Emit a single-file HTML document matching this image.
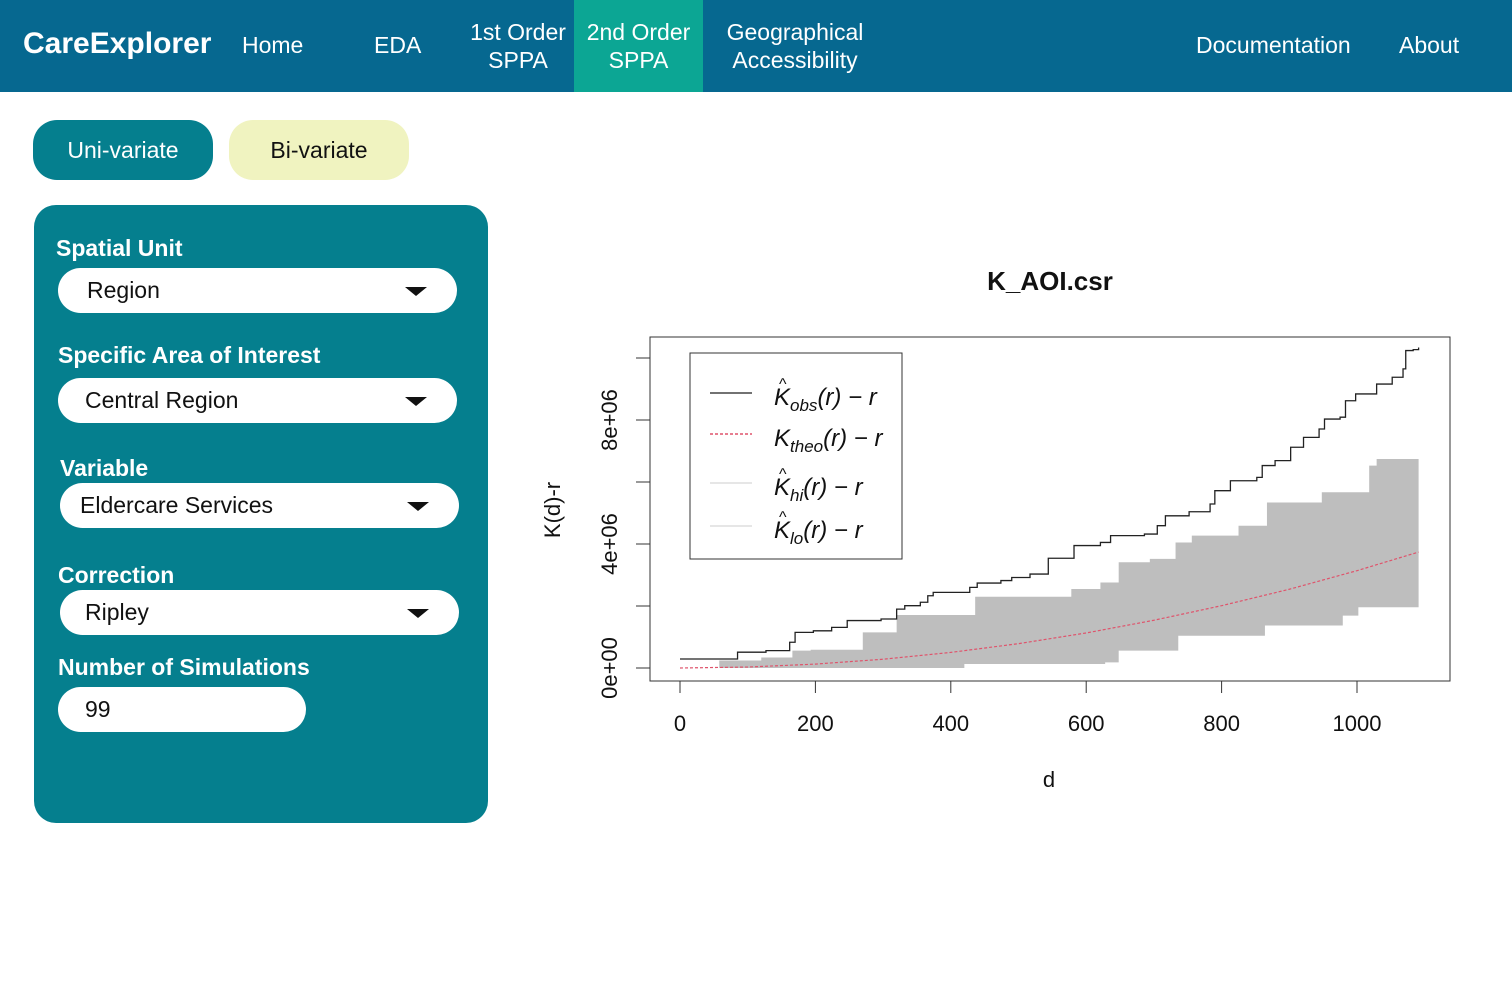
<!DOCTYPE html>
<html><head><meta charset="utf-8">
<style>
*{box-sizing:border-box;margin:0;padding:0}
body{width:1512px;height:983px;background:#fff;font-family:"Liberation Sans",sans-serif;position:relative;overflow:hidden}
.nav{position:absolute;left:0;top:0;width:1512px;height:92px;background:#066890;color:#fff}
.nav div{position:absolute;font-size:23px;text-align:center;line-height:28px}
.brand{left:23px;top:30px;font-weight:bold;font-size:30px!important}
.active{background:#0ca694;top:0!important;height:92px;padding-top:18px}
.btn{position:absolute;top:120px;width:180px;height:60px;border-radius:24px;font-size:23px;text-align:center;line-height:60px}
.panel{position:absolute;left:34px;top:205px;width:454px;height:618px;background:#057f8e;border-radius:22px}
.lbl{position:absolute;color:#fff;font-weight:bold;font-size:23px}
.sel{position:absolute;background:#fff;border-radius:23px;height:45px;font-size:23px;line-height:45px;color:#111}
.sel .arr{position:absolute;right:30px;top:19px;width:0;height:0;border-left:11px solid transparent;border-right:11px solid transparent;border-top:9px solid #111}
svg{position:absolute;left:0;top:0}
</style></head><body>
<div class="nav">
<div class="brand">CareExplorer</div>
<div style="left:242px;top:31px">Home</div>
<div style="left:374px;top:31px">EDA</div>
<div style="left:466px;top:18px;width:104px">1st Order<br>SPPA</div>
<div class="active" style="left:574px;width:129px">2nd Order<br>SPPA</div>
<div style="left:722px;top:18px;width:146px">Geographical<br>Accessibility</div>
<div style="left:1196px;top:31px">Documentation</div>
<div style="left:1399px;top:31px">About</div>
</div>
<div class="btn" style="left:33px;background:#057f8e;color:#fff">Uni-variate</div>
<div class="btn" style="left:229px;background:#f0f3c0;color:#111">Bi-variate</div>
<div class="panel"></div>
<div class="lbl" style="left:56px;top:235px">Spatial Unit</div>
<div class="sel" style="left:58px;top:268px;width:399px;padding-left:29px">Region<span class="arr"></span></div>
<div class="lbl" style="left:58px;top:342px">Specific Area of Interest</div>
<div class="sel" style="left:58px;top:378px;width:399px;padding-left:27px">Central Region<span class="arr"></span></div>
<div class="lbl" style="left:60px;top:455px">Variable</div>
<div class="sel" style="left:60px;top:483px;width:399px;padding-left:20px">Eldercare Services<span class="arr"></span></div>
<div class="lbl" style="left:58px;top:562px">Correction</div>
<div class="sel" style="left:60px;top:590px;width:399px;padding-left:25px">Ripley<span class="arr"></span></div>
<div class="lbl" style="left:58px;top:654px">Number of Simulations</div>
<div class="sel" style="left:58px;top:687px;width:248px;padding-left:27px">99</div>

<svg id="chart" width="1512" height="983"></svg>
<script>
const obsD=[0,85,127,162,170,197,224,247,297,320,332,355,366,374,428,439,474,490,517,544,582,621,636,686,705,717,752,783,790,813,852,860,879,902,921,944,952,975,983,998,1029,1052,1068,1072,1083,1091];
const obsV=[0.29,0.51,0.56,0.83,1.15,1.20,1.31,1.53,1.58,1.90,2.01,2.12,2.33,2.44,2.60,2.74,2.82,2.92,3.03,3.54,3.95,4.05,4.27,4.32,4.59,4.91,5.04,5.29,5.72,6.04,6.15,6.53,6.69,7.12,7.44,7.71,8.03,8.09,8.62,8.84,9.16,9.38,9.65,10.24,10.27,10.34];
const hiD=[0,58,120,166,193,270,320,436,578,621,648,694,732,756,825,867,948,1018,1029,1091];
const hiV=[0,0.24,0.34,0.56,0.59,1.15,1.71,2.30,2.55,2.76,3.41,3.52,4.05,4.27,4.59,5.34,5.67,6.53,6.74,6.85];
const loD=[0,420,628,648,736,864,979,1002,1091];
const loV=[0,0.13,0.18,0.56,1.04,1.37,1.69,1.96,1.96];
const theoD=[0,100,200,300,400,500,600,700,800,900,1000,1091];
const theoV=[0,0.031,0.126,0.283,0.503,0.785,1.13,1.54,2.01,2.54,3.14,3.74];
const xTicks=[0,200,400,600,800,1000];
const yTicks=[0,2,4,6,8,10];
const yLabels={0:"0e+00",4:"4e+06",8:"8e+06"};
const sx=d=>680+d*0.677, sy=v=>668-v*31;
const NS="http://www.w3.org/2000/svg", svg=document.getElementById('chart');
function mk(t,a,txt){const e=document.createElementNS(NS,t);for(const k in a)e.setAttribute(k,a[k]);if(txt!=null)e.textContent=txt;svg.appendChild(e);return e;}
function step(D,V){let p=`M${sx(D[0])},${sy(V[0])}`;for(let i=1;i<D.length;i++)p+=` H${sx(D[i])} V${sy(V[i])}`;return p;}
// envelope
let env=step(hiD,hiV);
for(let i=loD.length-1;i>=0;i--){env+=` L${sx(loD[i])},${sy(loV[i])}`;if(i>0)env+=` L${sx(loD[i])},${sy(loV[i-1])}`;}
const ev=mk('path',{d:env+'Z',fill:'#bebebe',stroke:'none'});


const th=mk('path',{d:'M'+theoD.map((d,i)=>sx(d)+','+sy(theoV[i])).join(' L'),fill:'none',stroke:'#df536b','stroke-width':1.2,'stroke-dasharray':'3,2'});


const ob=mk('path',{d:step(obsD,obsV),fill:'none',stroke:'#222','stroke-width':1.3});


const box=mk('rect',{x:650,y:337,width:800,height:344,fill:'none',stroke:'#333','stroke-width':1});


xTicks.forEach(t=>{mk('line',{x1:sx(t),x2:sx(t),y1:681,y2:693,stroke:'#333'});
const l=mk('text',{x:sx(t),y:731,'font-size':22,'text-anchor':'middle',fill:'#111'},t);

});
yTicks.forEach(t=>{mk('line',{x1:636,x2:650,y1:sy(t),y2:sy(t),stroke:'#333'});
if(yLabels[t]){const l=mk('text',{x:617,y:sy(t),'font-size':22,'text-anchor':'middle',fill:'#111',transform:`rotate(-90 617 ${sy(t)})`},yLabels[t]);

}});
const tt=mk('text',{x:1050,y:290,'font-size':26,'font-weight':'bold','text-anchor':'middle',fill:'#111'},'K_AOI.csr');


const xt=mk('text',{x:1049,y:787,'font-size':22,'text-anchor':'middle',fill:'#111'},'d');


const yt=mk('text',{x:560,y:510,'font-size':22,'text-anchor':'middle',fill:'#111',transform:'rotate(-90 560 510)'},'K(d)-r');


const lg=mk('rect',{x:690,y:353,width:212,height:206,fill:'#fff',stroke:'#333'});


const ents=[['obs','#444','',397],['theo','#df536b','3,2',438],['hi','#ddd','',487],['lo','#ddd','',530]];
ents.forEach(([s,c,da,y])=>{const ln=mk('line',{x1:710,x2:752,y1:y-4,y2:y-4,stroke:c,'stroke-width':1.4,'stroke-dasharray':da});


const t=mk('text',{x:774,y:y+8,'font-size':24,'font-style':'italic',fill:'#111'});


t.innerHTML=`K<tspan font-size="17" dy="6">${s}</tspan><tspan dy="-6">(r) − r</tspan>`;
if(s!=='theo')mk('text',{x:779,y:y-8,'font-size':16,fill:'#111'},'^');});
</script>
</body></html>
